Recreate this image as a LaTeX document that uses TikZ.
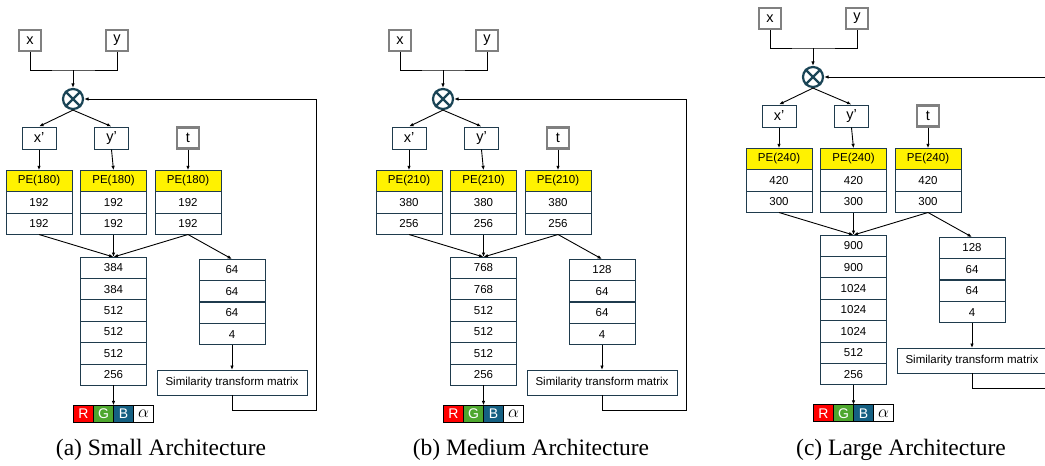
\documentclass[tikz,border=0pt]{standalone}
\usepackage{fontspec}
\setmainfont{Liberation Serif}
\setsansfont{Liberation Sans}
\usetikzlibrary{positioning,arrows.meta}

\definecolor{boxline}{HTML}{1F3B4D}
\definecolor{mixcol}{HTML}{1B4556}
\definecolor{ingray}{HTML}{808080}
\definecolor{rcol}{HTML}{FF0000}
\definecolor{gcol}{HTML}{4EA72E}
\definecolor{bcol}{HTML}{156082}

\tikzset{
  inbox/.style={draw=ingray, line width=2.2pt, minimum width=22pt, minimum height=21pt,
                inner sep=0pt, font=\sffamily\fontsize{14.5}{14}\selectfont},
  pbox/.style={draw=boxline, line width=1pt, minimum width=34pt, minimum height=22pt,
               inner sep=0pt, font=\sffamily\fontsize{14.5}{14}\selectfont},
  layer/.style={draw=boxline, line width=1pt, minimum width=66pt, minimum height=21.4pt,
                inner sep=0pt, outer sep=0pt, font=\sffamily\fontsize{11.5}{12}\selectfont},
  pe/.style={layer, fill=yellow},
  simbox/.style={layer, minimum width=150pt, minimum height=25pt},
  mix/.style={circle, draw=mixcol, line width=2.2pt, minimum size=20pt, inner sep=0pt},
  chan/.style={draw, line width=0.8pt, minimum width=20pt, minimum height=17pt,
               inner sep=0pt, outer sep=0pt, font=\sffamily\fontsize{14}{14}\selectfont},
  wire/.style={line width=0.9pt},
  flow/.style={wire, -{Latex[length=4.5pt,width=3.5pt]}},
  caption/.style={font=\fontsize{23.5}{26}\selectfont}
}

\begin{document}
\begin{tikzpicture}[x=1pt, y=-1pt]
    \useasboundingbox (0,0) rectangle (1045,466);
    \clip (0,0) rectangle (1045,466);
    \foreach \p/\sx/\sy/\pe/\ha/\hb/\main/\side/\cap in {
        a/0/0/180/192/192/{384,384,512,512,512,256}/{64,64,64,4}/{(a) Small Architecture},
        b/370/0/210/380/256/{768,768,512,512,512,256}/{128,64,64,4}/{(b) Medium Architecture},
        c/740/-22/240/420/300/{900,900,1024,1024,1024,512,256}/{128,64,64,4}/{(c) Large Architecture}}{
    \begin{scope}[shift={(\sx,\sy)}]
        % inputs and mixing
        \node[inbox] (\p-x) at (30,40.5) {x};
        \node[inbox] (\p-y) at (117,40.5) {y};
        \node[mix] (\p-mix) at (73,99) {};
        \draw[mixcol, line width=2.2pt] (\p-mix.north west) -- (\p-mix.south east)
                                        (\p-mix.north east) -- (\p-mix.south west);
        \coordinate (\p-join) at (73,70);
        \draw[wire] (\p-x.south) |- (\p-join) -| (\p-y.south);
        \draw[flow] (\p-join) -- (\p-mix.north);
        \node[pbox] (\p-xp) at (39,138) {x’};
        \node[pbox] (\p-yp) at (111.5,138) {y’};
        \node[inbox] (\p-t) at (188,138) {t};
        \draw[flow] (\p-mix.south) -- (\p-xp.north);
        \draw[flow] (\p-mix.south) -- (\p-yp.north);
        % encodings
        \foreach \q/\cx/\src in {1/39/xp, 2/113.5/yp, 3/188/t}{
            \node[pe] (\p-e\q) at (\cx,181) {PE(\pe)};
            \node[layer, below=0pt of \p-e\q] (\p-f\q) {\ha};
            \node[layer, below=0pt of \p-f\q] (\p-g\q) {\hb};
            \draw[flow] (\p-\src.south) -- (\p-e\q.north);
        }
        % colour branch
        \foreach \v [count=\i] in \main {
            \node[layer] (\p-m\i) at (113.5,{257+21.4*(\i-0.5)}) {\v};
            \coordinate (\p-mbot) at (\p-m\i.south);
        }
        \node[chan, fill=bcol, text=white, below right=20pt and 0pt of \p-mbot] (\p-B) {B};
        \node[chan, fill=gcol, text=white, left=0pt of \p-B] (\p-G) {G};
        \node[chan, fill=rcol, text=white, left=0pt of \p-G] (\p-R) {R};
        \node[chan, fill=white, right=0pt of \p-B, font=\fontsize{17}{17}\selectfont] (\p-A) {$\alpha$};
        \draw[flow] (\p-mbot) -- (\p-mbot |- \p-B.north);
        % transform branch
        \foreach \v [count=\i] in \side {
            \node[layer] (\p-s\i) at (232,{259+21.5*(\i-0.5)}) {\v};
            \coordinate (\p-sbot) at (\p-s\i.south);
        }
        \node[simbox] (\p-sim) at (232,382.5) {Similarity transform matrix};
        \draw[flow] (\p-g1.south) -- (\p-m1.north);
        \draw[flow] (\p-g2.south) -- (\p-m1.north);
        \draw[flow] (\p-g3.south) -- (\p-m1.north);
        \draw[flow] (\p-g3.south) -- (\p-s1.north);
        \draw[flow] (\p-sbot) -- (\p-sim.north);
        \coordinate (\p-loop) at (316,410);
        \draw[flow] (\p-sim.south) |- (\p-loop) |- (\p-mix.east);
        \node[caption] (\p-cap) at (161,{450-\sy}) {\cap};
    \end{scope}
    }
\end{tikzpicture}
\end{document}
